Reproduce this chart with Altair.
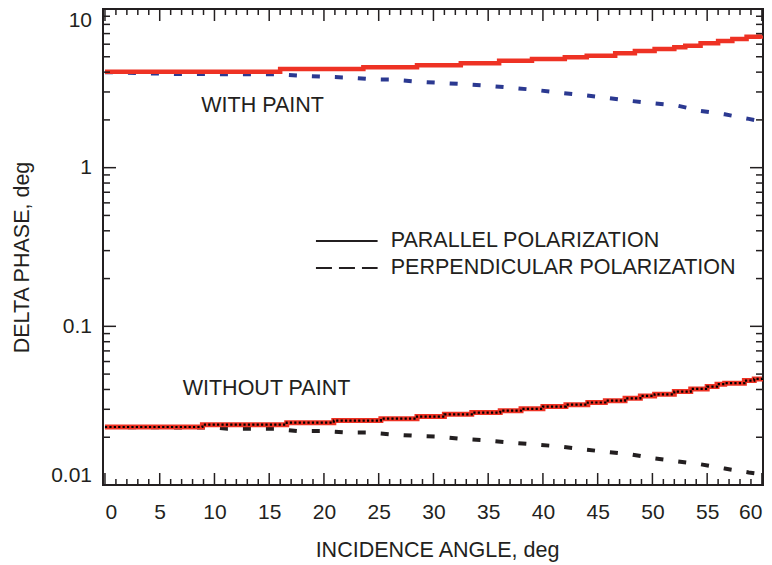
import altair as alt
import pandas as pd

# ---------------- data ----------------
# axis ticks
x_major = list(range(0, 61, 5))
x_minor = [a for a in range(0, 61) if a % 5 != 0]
y_major = [0.01, 0.1, 1, 10]
y_minor = [m * d for d in (0.01, 0.1, 1) for m in range(2, 10)]

# WITH PAINT, parallel polarization (staircase, value starts at angle)
wp_par_angle = [0, 16, 23.6, 28.5, 32.5, 36, 39, 42, 44, 46.6, 48.4, 50.2,
                52, 53, 54.4, 56, 57.3, 58.6, 59.7, 60]
wp_par_value = [4.03, 4.19, 4.29, 4.42, 4.55, 4.72, 4.84, 4.97, 5.08, 5.26,
                5.44, 5.60, 5.74, 5.87, 6.08, 6.28, 6.47, 6.69, 6.72, 6.80]

# WITH PAINT, perpendicular polarization
wp_perp_angle = [0, 6.5, 15.6, 17.7, 19.8, 22, 24.3, 26.2, 28.3, 30.4, 32.7,
                 34.8, 37.1, 39.3, 41.5, 43.6, 45.7, 47.9, 50.2, 52.3, 54.4,
                 56.6, 58.8, 59.6]
wp_perp_value = [4.0, 3.89, 3.88, 3.80, 3.75, 3.70, 3.61, 3.59, 3.49, 3.43,
                 3.36, 3.29, 3.19, 3.09, 2.97, 2.87, 2.76, 2.64, 2.54, 2.46,
                 2.28, 2.17, 2.03, 1.98]

# WITHOUT PAINT, parallel polarization (staircase)
np_par_angle = [0, 8.9, 16.6, 20.9, 25.2, 28.5, 31, 33.5, 36.1, 38, 40, 42.1,
                44.1, 45.7, 47.5, 48.9, 50.2, 52, 53.5, 55, 55.9, 56.6, 58.4,
                59.3, 60]
np_par_value = [0.0232, 0.0240, 0.0247, 0.02546, 0.0262, 0.0270, 0.0279,
                0.0286, 0.0294, 0.0302, 0.0312, 0.0321, 0.0331, 0.0340,
                0.0352, 0.0364, 0.0373, 0.0388, 0.0403, 0.0417, 0.0432,
                0.0438, 0.0455, 0.0466, 0.0470]

# WITHOUT PAINT, perpendicular polarization
np_perp_angle = [0, 10, 11.2, 13.4, 15.5, 17.6, 19.8, 22, 24.2, 26.3, 28.5,
                 30.4, 32.7, 34.8, 37.1, 39.3, 41.5, 43.6, 45.7, 48, 50.2,
                 52.3, 54.4, 56.6, 58.8, 59.6]
np_perp_value = [0.0232, 0.0230, 0.0226, 0.0226, 0.0226, 0.0219, 0.0219,
                 0.0214, 0.0214, 0.0208, 0.0204, 0.0202, 0.0195, 0.0191,
                 0.0185, 0.0180, 0.0175, 0.0168, 0.0162, 0.0156, 0.0147,
                 0.0141, 0.0135, 0.0127, 0.0120, 0.0118]

# annotations (text, angle, value)
notes_text = ["WITH PAINT", "WITHOUT PAINT"]
notes_angle = [8.8, 7.1]
notes_value = [2.45, 0.0405]

# legend entries (placed in data coordinates)
legend_text = ["PARALLEL POLARIZATION", "PERPENDICULAR POLARIZATION"]
legend_value = [0.345, 0.2334]
legend_line_from = 19.27
legend_line_to = 24.9
legend_text_at = 26.1

# ---------------- styling ----------------
W, H = 660, 476
FONT = "Liberation Sans"
INK = "#231f20"
RED = "#ee3224"
BLUE = "#2b3991"
FS_LABEL = 21
FS_TEXT = 21.5

xs = alt.Scale(domain=[-0.18, 60.1], nice=False, zero=False)
ys = alt.Scale(type="log", domain=[0.01, 10], nice=False)

x_axis = alt.Axis(values=x_major, format="d", ticks=False, tickSize=0,
                  domain=False, grid=False, labelFont=FONT,
                  labelFontSize=FS_LABEL, labelColor=INK, labelPadding=16,
                  labelFlush=5, title="INCIDENCE ANGLE, deg", titleFont=FONT,
                  titleFontSize=FS_TEXT, titleFontWeight="normal",
                  titleColor=INK, titleBaseline="middle", titleX=334,
                  titleY=65)
y_axis = alt.Axis(values=y_major, format="~g", ticks=False, tickSize=0,
                  domain=False, grid=False, labelFont=FONT,
                  labelFontSize=FS_LABEL, labelColor=INK, labelPadding=11.5,
                  labelFlush=True, title="DELTA PHASE, deg", titleFont=FONT,
                  titleFontSize=FS_TEXT, titleFontWeight="normal",
                  titleColor=INK, titleAngle=270, titleBaseline="middle",
                  titleAlign="center", titleX=-81, titleY=248)


def X(f):
    return alt.X(f, type="quantitative", scale=xs, axis=x_axis)


def Y(f):
    return alt.Y(f, type="quantitative", scale=ys, axis=y_axis)


def line(angles, values, color, width, dash=None, interp="linear"):
    df = pd.DataFrame({"angle": angles, "value": values})
    kw = dict(color=color, strokeWidth=width, interpolate=interp, clip=True)
    if dash:
        kw["strokeDash"] = dash
    return alt.Chart(df).mark_line(**kw).encode(x=X("angle"), y=Y("value"))


layers = []
# curves
layers.append(line(wp_perp_angle, wp_perp_value, BLUE, 4, [8, 15]))
layers.append(line(wp_par_angle, wp_par_value, RED, 4.5, None, "step-after"))
layers.append(line(np_perp_angle, np_perp_value, INK, 4, [8, 15]))
layers.append(line(np_par_angle, np_par_value, RED, 5, None, "step-after"))
layers.append(line(np_par_angle, np_par_value, "#000000", 2.2, [2.2, 2.2],
                   "step-after"))


# ticks (inward)
def xticks(vals, length):
    df = pd.DataFrame({"angle": vals})
    base = alt.Chart(df).mark_rule(color=INK, strokeWidth=1.5)
    return [
        base.encode(x=X("angle"), y=alt.value(H), y2=alt.value(H - length)),
        base.encode(x=X("angle"), y=alt.value(0), y2=alt.value(length)),
    ]


def yticks(vals, length):
    df = pd.DataFrame({"v": vals})
    base = alt.Chart(df).mark_rule(color=INK, strokeWidth=1.5)
    return [
        base.encode(y=Y("v"), x=alt.value(0), x2=alt.value(length)),
        base.encode(y=Y("v"), x=alt.value(W), x2=alt.value(W - length)),
    ]


layers += xticks(x_major, 12) + xticks(x_minor, 6)
layers += yticks(y_major, 13) + yticks(y_minor, 7)

# annotations
notes = pd.DataFrame({"t": notes_text, "angle": notes_angle,
                      "value": notes_value})
layers.append(alt.Chart(notes).mark_text(
    align="left", baseline="middle", font=FONT, fontSize=FS_TEXT, color=INK
).encode(x=X("angle"), y=Y("value"), text="t:N"))

# legend
leg = pd.DataFrame({"t": legend_text, "value": legend_value,
                    "a0": [legend_line_from] * 2, "a1": [legend_line_to] * 2,
                    "at": [legend_text_at] * 2})
layers.append(alt.Chart(leg.iloc[[0]]).mark_rule(
    color=INK, strokeWidth=2).encode(x=X("a0"), x2="a1", y=Y("value")))
layers.append(alt.Chart(leg.iloc[[1]]).mark_rule(
    color=INK, strokeWidth=2, strokeDash=[16, 7]).encode(
    x=X("a0"), x2="a1", y=Y("value")))
layers.append(alt.Chart(leg).mark_text(
    align="left", baseline="middle", font=FONT, fontSize=FS_TEXT, color=INK
).encode(x=X("at"), y=Y("value"), text="t:N"))

chart = alt.layer(*layers).properties(
    width=W, height=H,
    padding={"left": 95, "top": 1, "right": 1, "bottom": 78},
    autosize=alt.AutoSizeParams(type="none"),
    background="white",
).configure_view(stroke=INK, strokeWidth=2)

chart.save("out.html", embed_options={"renderer": "svg", "actions": False})
